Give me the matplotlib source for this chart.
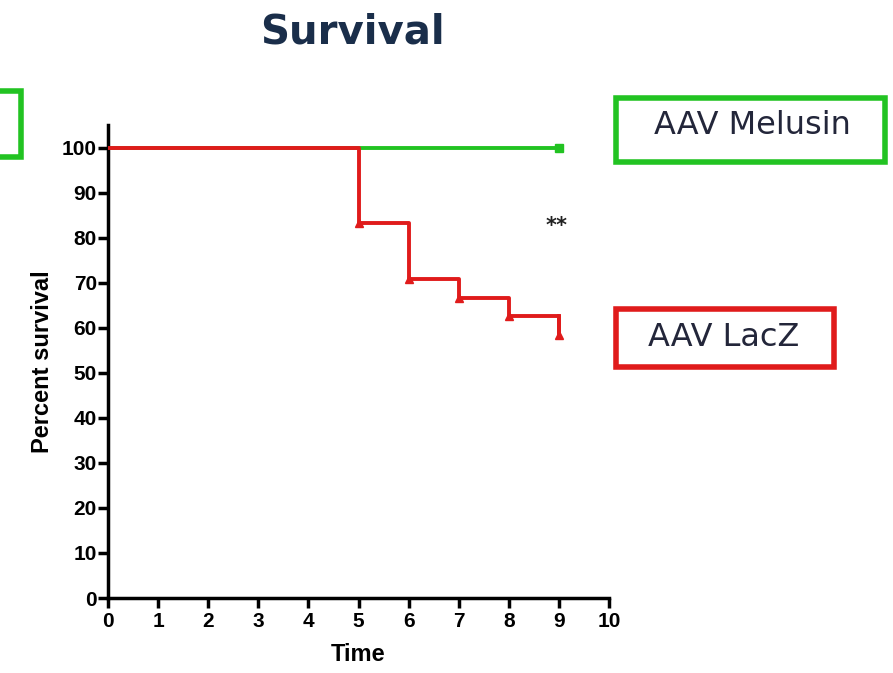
import matplotlib.pyplot as plt
from matplotlib.patches import Rectangle

# survival data (percent)
time_lacz = [0, 5, 6, 7, 8, 9]
surv_lacz = [100, 83.3, 70.8, 66.7, 62.5, 58.3]
time_mel = [0, 9]
surv_mel = [100, 100]
x_ticks = list(range(0, 11))
y_ticks = list(range(0, 101, 10))

fig = plt.figure(figsize=(8.93, 6.73), dpi=100)
ax = fig.add_axes([108/893, 1-598/673, (609-108)/893, (598-125)/673])

ax.step(time_mel, surv_mel, where='post', color='#22c322', lw=2.8, zorder=2)
ax.plot(time_mel[-1:], surv_mel[-1:], 's', color='#22c322', ms=6, zorder=3)
ax.step(time_lacz, surv_lacz, where='post', color='#e01b1b', lw=2.8, zorder=3)
# vertical tail at the last time point
ax.plot([time_lacz[-1], time_lacz[-1]], [surv_lacz[-2], surv_lacz[-1]], color='#e01b1b', lw=2.8, zorder=3)
ax.plot(time_lacz[1:], surv_lacz[1:], '^', color='#e01b1b', ms=6, zorder=4)

ax.set_xlim(0, 10)
ax.set_ylim(0, 105)
ax.set_xticks(x_ticks)
ax.set_yticks(y_ticks)
for s in ['top', 'right']:
    ax.spines[s].set_visible(False)
for s in ['left', 'bottom']:
    ax.spines[s].set_linewidth(2.5)
ax.tick_params(axis='x', direction='out', length=7, width=2.5, labelsize=15, pad=3)
ax.tick_params(axis='y', direction='out', length=7, width=2.5, labelsize=15, pad=1)
for lab in ax.get_xticklabels() + ax.get_yticklabels():
    lab.set_fontweight('bold')
    lab.set_family('Liberation Sans')
ax.set_ylabel('Percent survival', fontsize=17, fontweight='bold', family='Liberation Sans', labelpad=6)
ax.set_xlabel('Time', fontsize=17, fontweight='bold', family='Liberation Sans')
ax.xaxis.set_label_coords(0.5, -0.095)

ax.text(8.95, 82.5, '**', fontsize=15, fontweight='bold', ha='center', va='center', color='#222222')

fig.text(352/893, 1-32/673, 'Survival', fontsize=29, fontweight='bold',
         color='#1a2e4a', ha='center', va='center', family='DejaVu Sans')

# label boxes
fig.text(752/893, 1-126/673, 'AAV Melusin', fontsize=23, color='#23263a',
         ha='center', va='center', family='DejaVu Sans')
fig.patches.append(Rectangle((616/893, 1-162/673), 269/893, 64/673, fill=False,
                             edgecolor='#22c322', lw=4, transform=fig.transFigure))
fig.text(724/893, 1-338/673, 'AAV LacZ', fontsize=23, color='#23263a',
         ha='center', va='center', family='DejaVu Sans')
fig.patches.append(Rectangle((616/893, 1-367/673), 218/893, 58/673, fill=False,
                             edgecolor='#e01b1b', lw=4, transform=fig.transFigure))
# partial green box at left edge
fig.patches.append(Rectangle((-30/893, 1-157/673), 51/893, 66/673, fill=False,
                             edgecolor='#22c322', lw=4, transform=fig.transFigure))

fig.savefig('out.png', dpi=100)
